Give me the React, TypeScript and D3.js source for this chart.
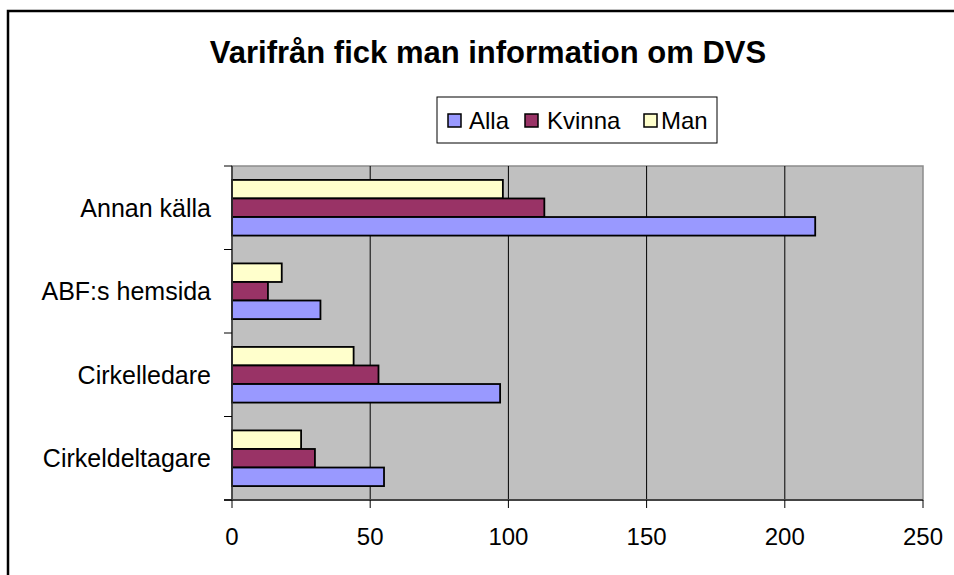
import React from "react";
import * as d3 from "d3";

const title = "Varifrån fick man information om DVS";
const categories = ["Annan källa", "ABF:s hemsida", "Cirkelledare", "Cirkeldeltagare"];
const seriesNames = ["Alla", "Kvinna", "Man"];
const alla = [211, 32, 97, 55];
const kvinna = [113, 13, 53, 30];
const man = [98, 18, 44, 25];
const colors = ["#9999FF", "#993366", "#FFFFCC"];
const xTicks = [0, 50, 100, 150, 200, 250];

const W = 954;
const H = 575;
const FONT = "'Liberation Sans', Arial, sans-serif";

export default function App() {
  const plot = { left: 232, right: 923, top: 166, bottom: 500 };
  const x = d3.scaleLinear().domain([0, 250]).range([plot.left, plot.right]);
  const y = d3.scaleBand<string>().domain(categories).range([plot.top, plot.bottom]).padding(0);
  // within each category: Man on top, then Kvinna, then Alla
  const order = ["Man", "Kvinna", "Alla"];
  const yInner = d3
    .scaleBand<string>()
    .domain(order)
    .range([0, y.bandwidth()])
    .paddingInner(0)
    .paddingOuter(0.75);
  const values: Record<string, number[]> = { Alla: alla, Kvinna: kvinna, Man: man };
  const colorOf = (s: string) => colors[seriesNames.indexOf(s)];

  const legendItems = [
    { name: "Alla", sx: 448, tx: 469 },
    { name: "Kvinna", sx: 525, tx: 547 },
    { name: "Man", sx: 644, tx: 661 },
  ];

  return (
    <svg
      width={W}
      height={H}
      style={{ position: "absolute", left: 0, top: 0, background: "#fff" }}
      fontFamily={FONT}
    >
      <rect x={0} y={0} width={W} height={H} fill="#fff" />
      {/* outer frame */}
      <rect x={8} y={11} width={1200} height={1200} fill="none" stroke="#000" strokeWidth={2.5} />

      {/* title */}
      <text x={488} y={63} textAnchor="middle" fontSize={31} fontWeight="bold" fill="#000">
        {title}
      </text>

      {/* legend */}
      <rect x={437} y={97} width={280} height={46} fill="#fff" stroke="#000" strokeWidth={1} />
      {legendItems.map((it) => (
        <g key={it.name}>
          <rect
            x={it.sx}
            y={114}
            width={13}
            height={13}
            fill={colorOf(it.name)}
            stroke="#000"
            strokeWidth={1.5}
          />
          <text x={it.tx} y={129} fontSize={24} fill="#000">
            {it.name}
          </text>
        </g>
      ))}

      {/* plot area */}
      <rect
        x={plot.left}
        y={plot.top}
        width={plot.right - plot.left}
        height={plot.bottom - plot.top}
        fill="#C0C0C0"
        stroke="#8c8c8c"
        strokeWidth={1.5}
      />
      {/* gridlines */}
      {xTicks
        .filter((t) => t > 0 && t < 250)
        .map((t) => (
          <line key={t} x1={x(t)} x2={x(t)} y1={plot.top} y2={plot.bottom} stroke="#000" strokeWidth={1} />
        ))}

      {/* bars */}
      {categories.map((c, i) => (
        <g key={c}>
          {order.map((s) => (
            <rect
              key={s}
              x={x(0)}
              y={(y(c) as number) + (yInner(s) as number)}
              width={x(values[s][i]) - x(0)}
              height={yInner.bandwidth()}
              fill={colorOf(s)}
              stroke="#000"
              strokeWidth={1.8}
            />
          ))}
        </g>
      ))}

      {/* axes */}
      <line x1={plot.left} x2={plot.left} y1={plot.top} y2={plot.bottom} stroke="#333" strokeWidth={1.5} />
      <line x1={plot.left - 8} x2={plot.right} y1={plot.bottom} y2={plot.bottom} stroke="#444" strokeWidth={2} />
      {xTicks.map((t) => (
        <g key={t}>
          <line x1={x(t)} x2={x(t)} y1={plot.bottom} y2={plot.bottom + 8} stroke="#000" strokeWidth={1} />
          <text x={x(t)} y={545} textAnchor="middle" fontSize={24} fill="#000">
            {t}
          </text>
        </g>
      ))}
      {/* category ticks */}
      {[...categories.map((c) => y(c) as number), plot.bottom].map((v, i) => (
        <line key={i} x1={plot.left - 8} x2={plot.left} y1={v} y2={v} stroke="#000" strokeWidth={1} />
      ))}
      {categories.map((c) => (
        <text
          key={c}
          x={211}
          y={(y(c) as number) + y.bandwidth() / 2 + 9}
          textAnchor="end"
          fontSize={25}
          fill="#000"
        >
          {c}
        </text>
      ))}
    </svg>
  );
}
